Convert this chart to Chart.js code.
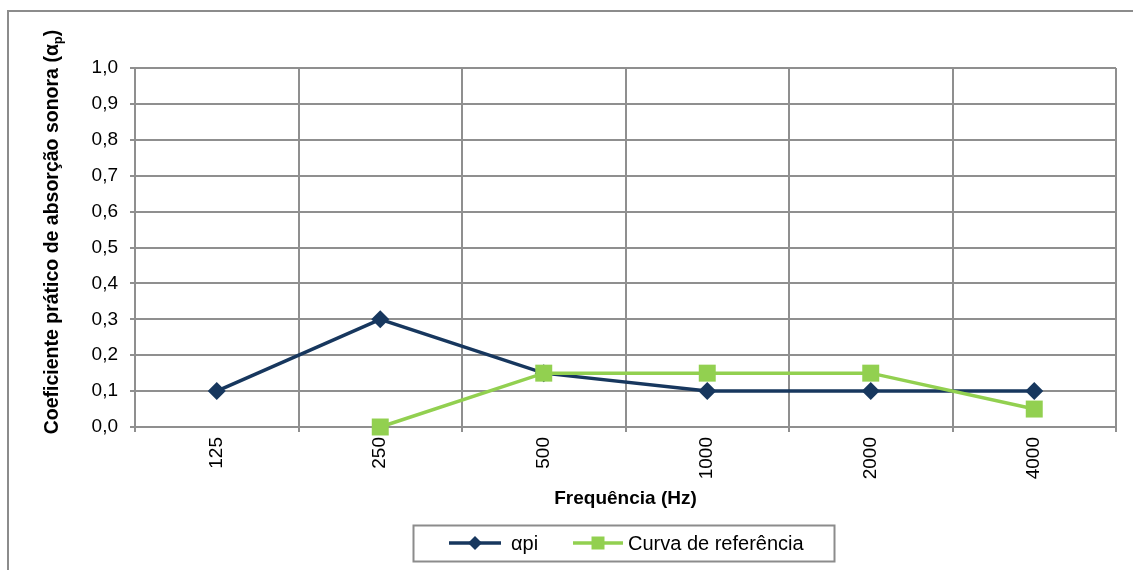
<!DOCTYPE html>
<html><head><meta charset="utf-8">
<script src="https://cdn.jsdelivr.net/npm/chart.js@4.4.0/dist/chart.umd.min.js"></script>
<style>html,body{margin:0;padding:0;background:#fff}#wrap{width:1133px;height:570px;position:relative;overflow:hidden}</style>
</head><body><div id="wrap"><canvas id="c" width="1133" height="570"></canvas></div>
<script>
const categories = ['125', '250', '500', '1000', '2000', '4000'];
const alphaPi = [0.1, 0.3, 0.15, 0.1, 0.1, 0.1];
const curvaReferencia = [null, 0, 0.15, 0.15, 0.15, 0.05];
const yMin = 0, yMax = 1, yStep = 0.1;
const seriesNames = ['αpi', 'Curva de referência'];
const xTitle = 'Frequência (Hz)';
const yTitleMain = 'Coeficiente prático de absorção sonora (α';
const yTitleSub = 'p';
const yTitleEnd = ')';

const NAVY = '#17375e', GREEN = '#92d050', GRID = '#8f8f8f', FONT = 'Arial, "Liberation Sans", sans-serif';

const framePlugin = {
  id: 'frame',
  beforeDraw(chart) {
    const ctx = chart.ctx;
    ctx.save();
    ctx.fillStyle = '#fff';
    ctx.fillRect(0, 0, chart.width, chart.height);
    ctx.strokeStyle = '#8c8c8c';
    ctx.lineWidth = 2;
    ctx.strokeRect(8, 11, chart.width + 20, chart.height + 20);
    ctx.restore();
  }
};

const yTitlePlugin = {
  id: 'ytitle',
  afterDraw(chart) {
    const ctx = chart.ctx;
    ctx.save();
    const mainFont = 'bold 19.5px ' + FONT, subFont = 'bold 13px ' + FONT;
    ctx.font = mainFont;
    const w1 = ctx.measureText(yTitleMain).width;
    const w3 = ctx.measureText(yTitleEnd).width;
    ctx.font = subFont;
    const w2 = ctx.measureText(yTitleSub).width;
    const total = w1 + w2 + w3;
    ctx.translate(53, 232);
    ctx.rotate(-Math.PI / 2);
    ctx.fillStyle = '#000';
    ctx.textBaseline = 'middle';
    ctx.textAlign = 'left';
    let x = -total / 2;
    ctx.font = mainFont; ctx.fillText(yTitleMain, x, 0); x += w1;
    ctx.font = subFont; ctx.fillText(yTitleSub, x, 5); x += w2;
    ctx.font = mainFont; ctx.fillText(yTitleEnd, x, 0);
    ctx.restore();
  }
};

function marker(ctx, style, x, y, r, color) {
  ctx.fillStyle = color;
  ctx.beginPath();
  if (style === 'rectRot') {
    ctx.moveTo(x, y - r); ctx.lineTo(x + r, y); ctx.lineTo(x, y + r); ctx.lineTo(x - r, y); ctx.closePath();
  } else {
    ctx.rect(x - r, y - r, 2 * r, 2 * r);
  }
  ctx.fill();
}

const legendPlugin = {
  id: 'boxLegend',
  afterDraw(chart) {
    const ctx = chart.ctx;
    ctx.save();
    ctx.strokeStyle = '#8c8c8c';
    ctx.lineWidth = 2;
    ctx.strokeRect(413.5, 525.5, 421, 36);
    const items = [
      {x0: 449, x1: 501, tx: 511, style: 'rectRot', r: 7},
      {x0: 573, x1: 623, tx: 628, style: 'rect', r: 6.5}
    ];
    const y = 543;
    chart.data.datasets.forEach((ds, i) => {
      const it = items[i];
      ctx.strokeStyle = ds.borderColor;
      ctx.lineWidth = 3.5;
      ctx.beginPath(); ctx.moveTo(it.x0, y); ctx.lineTo(it.x1, y); ctx.stroke();
      marker(ctx, it.style, (it.x0 + it.x1) / 2, y, it.r, ds.backgroundColor);
      ctx.fillStyle = '#000';
      ctx.font = '20px ' + FONT;
      ctx.textBaseline = 'middle';
      ctx.textAlign = 'left';
      ctx.fillText(ds.label, it.tx, y + 1);
    });
    ctx.restore();
  }
};

new Chart(document.getElementById('c'), {
  type: 'line',
  data: {
    labels: categories,
    datasets: [
      {label: seriesNames[0], data: alphaPi, borderColor: NAVY, backgroundColor: NAVY, borderWidth: 3.5, clip: false, order: 1,
       pointStyle: 'rectRot', pointRadius: 9, pointHoverRadius: 9, pointBorderWidth: 0, tension: 0, spanGaps: false},
      {label: seriesNames[1], data: curvaReferencia, borderColor: GREEN, backgroundColor: GREEN, borderWidth: 3.5, clip: false, order: 0,
       pointStyle: 'rect', pointRadius: 12, pointHoverRadius: 12, pointBorderWidth: 0, tension: 0, spanGaps: false}
    ]
  },
  options: {
    responsive: false,
    animation: false,
    devicePixelRatio: 1,
    layout: {padding: {left: 8, right: 17, top: 68, bottom: 0}},
    plugins: {legend: {display: false}, tooltip: {enabled: false}},
    scales: {
      x: {
        type: 'category', offset: true,
        grid: {color: GRID, lineWidth: 2, offset: true, tickLength: 5, drawTicks: true},
        border: {display: true, color: GRID, width: 2},
        ticks: {minRotation: 90, maxRotation: 90, color: '#000', font: {family: FONT, size: 19}, padding: 5, autoSkip: false},
        title: {display: true, text: xTitle, color: '#000', font: {family: FONT, size: 19, weight: 'bold'}, padding: {top: 0, bottom: 60}},
        afterFit(s) { s.height = 143; }
      },
      y: {
        min: yMin, max: yMax,
        grid: {color: GRID, lineWidth: 2, tickLength: 5, drawTicks: true},
        border: {display: true, color: GRID, width: 2},
        ticks: {stepSize: yStep, color: '#000', font: {family: FONT, size: 19}, padding: 12,
                callback: v => Number(v).toFixed(1).replace('.', ',')},
        afterFit(s) { s.width = 127; }
      }
    }
  },
  plugins: [framePlugin, yTitlePlugin, legendPlugin]
});
</script></body></html>
